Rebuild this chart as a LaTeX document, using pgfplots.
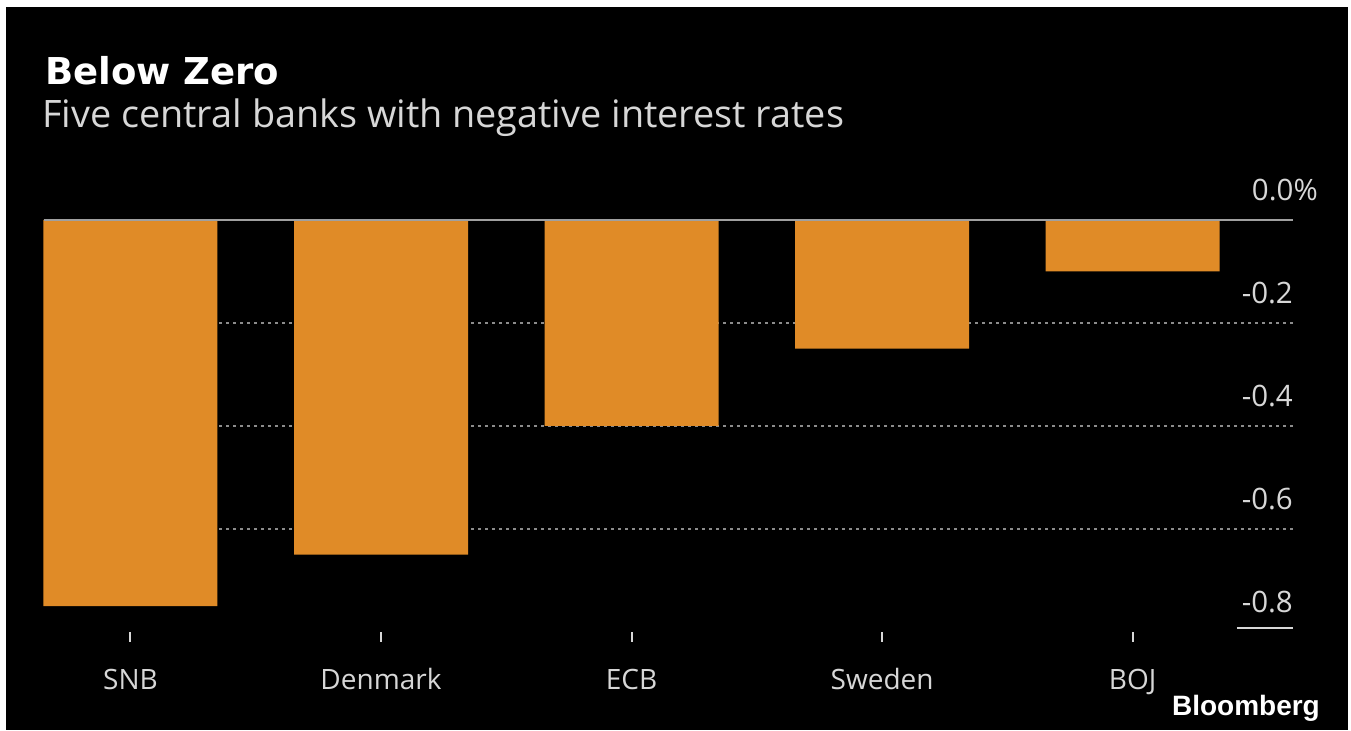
\documentclass[border=0pt]{standalone}
\usepackage{pgfplots}
\pgfplotsset{compat=1.18}
\usepackage{fontspec}
\setmainfont{Open Sans}
\newfontfamily\titlefont{DejaVu Sans}
\newfontfamily\logofont{Liberation Sans}
\definecolor{barorange}{RGB}{224,139,39}
\definecolor{txt}{RGB}{215,215,215}
\definecolor{gridc}{RGB}{140,140,140}
\definecolor{zeroc}{RGB}{160,160,160}
\pgfplotstableread{
x y
0 -0.75
1 -0.65
2 -0.40
3 -0.25
4 -0.10
}\ratestable
\begin{document}
\begin{tikzpicture}[x=1bp,y=1bp]
\fill[white] (0,0) rectangle (1351,730);
\fill[black] (6,0) rectangle (1348,723);
\node[anchor=base west, inner sep=0, text=white] at (45,645) {\titlefont\bfseries\fontsize{37bp}{42bp}\selectfont Below Zero};
\node[anchor=base west, inner sep=0, text=txt] at (42,602) {\fontsize{37.8bp}{44bp}\selectfont Five central banks with negative interest rates};
\node[anchor=base east, inner sep=0, text=white] at (1320,15) {\logofont\bfseries\fontsize{28bp}{34bp}\selectfont Bloomberg};
\begin{axis}[
  at={(44bp,98bp)}, anchor=south west,
  width=1249bp, height=412bp, scale only axis,
  xmin=-0.345, xmax=4.64, ymin=-0.8, ymax=0,
  clip=false,
  axis line style={draw=none},
  ybar, bar width=174bp,
  xtick={0,1,2,3,4}, xticklabels={SNB,Denmark,ECB,Sweden,BOJ},
  xtick pos=bottom,
  x tick style={draw=txt, line width=2bp},
  major tick length=10bp, tick align=outside,
  xticklabel style={text=txt, font=\fontsize{28bp}{32bp}\selectfont, anchor=base, inner sep=0pt, yshift=-47bp},
  ytick={-0.8,-0.6,-0.4,-0.2,0},
  yticklabels={-0.8,-0.6,-0.4,-0.2,0.0\%\kern-25bp},
  yticklabel pos=right,
  y tick style={draw=none},
  yticklabel style={text=txt, font=\fontsize{29.5bp}{34bp}\selectfont, anchor=base east, inner sep=0pt, yshift=19bp, xshift=-10bp},
  extra y ticks={-0.6,-0.4,-0.2},
  extra y tick labels={},
  extra y tick style={grid=major, major grid style={draw=gridc, line width=2bp, dash pattern=on 2.5bp off 4.5bp}},
]
\addplot[fill=barorange, draw=none] table[x=x, y=y] {\ratestable};
\draw[zeroc, line width=2bp] (rel axis cs:0,1) -- (rel axis cs:1,1);
\draw[txt, line width=2.5bp] ([yshift=4bp]axis cs:4.416,-0.8) -- ([yshift=4bp]axis cs:4.64,-0.8);
\end{axis}
\pgfresetboundingbox
\path[use as bounding box] (0,0) rectangle (1351,730);
\end{tikzpicture}
\end{document}
